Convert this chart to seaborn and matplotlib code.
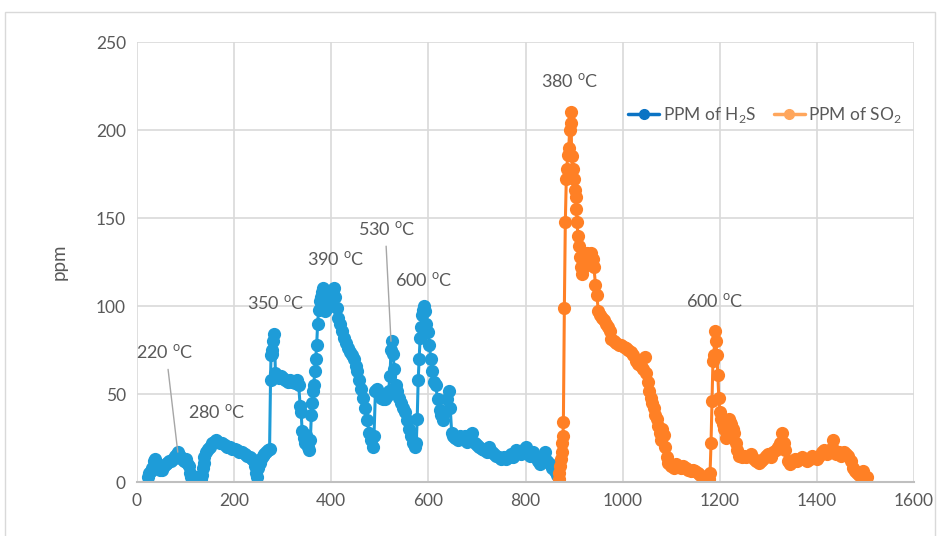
import pandas as pd
import matplotlib
matplotlib.use("Agg")
import matplotlib.pyplot as plt
import seaborn as sns
from matplotlib.lines import Line2D
from matplotlib.patches import Rectangle

# datos
h2s_x = [23, 25, 28, 31, 34, 37, 40, 43, 47, 51, 55, 59, 62, 66, 70, 74, 78, 82, 84, 88,
         92, 96, 100, 104, 107, 109, 112, 116, 119, 123, 127, 131, 133, 135, 137,
         139, 142, 146, 150, 154, 158, 162, 166, 170, 175, 181, 186, 191, 196, 201,
         206, 211, 216, 222, 227, 232, 236, 240, 243, 246, 248, 250, 253, 256, 259,
         262, 266, 270, 273,
         275, 276, 277, 279, 281, 283, 285, 288, 292, 296, 300, 305, 310, 315, 320,
         325, 330, 333, 336, 338, 340, 343, 345, 347, 350, 352, 355, 357, 359, 361,
         362, 364, 366, 368, 370, 372, 374, 376, 378, 380, 382, 385, 388, 392, 396,
         400, 404, 406, 408, 411, 414, 418, 422, 426, 430, 434, 438, 442, 446, 450,
         454, 458, 462, 466, 470, 474, 478, 482, 485, 488, 491, 494, 498, 502, 506,
         510, 514, 518, 521, 523, 525, 527, 530, 533, 536, 540, 544, 548, 552, 556,
         560, 564, 568, 572, 575, 577, 579, 581, 583, 585, 587, 589, 591, 593, 596,
         599, 602, 605, 608, 611, 615, 619, 623, 627, 631, 635, 639, 642, 645, 648,
         651, 655, 660, 665, 670, 675, 680, 685, 690, 695, 700, 705, 710, 715, 720,
         725, 730, 735, 740, 745, 750, 755, 760, 765, 770, 775, 780, 785, 790, 795,
         800, 805, 810, 815, 820, 825, 830, 835, 840, 845, 850, 855, 860, 865]
h2s_ppm = [3, 5, 6, 8, 12, 13, 10, 8, 7, 7, 9, 10, 11, 12, 12, 13, 15, 16, 17, 15,
           13, 12, 13, 11, 9, 5, 3, 2, 2, 3, 3, 2, 4, 8, 11,
           14, 17, 19, 20, 22, 23, 24, 23, 22, 22, 21, 20, 20, 19, 19,
           18, 17, 17, 16, 15, 14, 13, 12, 9, 5, 3, 8, 11, 13, 15,
           16, 17, 18, 19,
           58, 72, 75, 73, 80, 84, 62, 60, 59, 60, 59, 58, 57, 58, 57,
           56, 58, 55, 43, 40, 29, 25, 22, 27, 24, 20, 18, 24, 38, 45,
           52, 55, 63, 70, 78, 90, 98, 103, 105, 108, 110, 101, 97, 99, 104,
           106, 109, 110, 105, 99, 93, 90, 86, 82, 79, 76, 74, 72, 70, 66,
           63, 58, 53, 48, 42, 35, 28, 24, 20, 26, 52, 53, 50, 48, 47,
           47, 49, 52, 60, 75, 80, 73, 64, 55, 52, 48, 45, 42, 40, 35,
           30, 26, 22, 20, 22, 36, 58, 70, 82, 88, 95, 98, 100, 97, 90,
           85, 78, 70, 63, 57, 55, 47, 41, 38, 35, 40, 47, 52, 42, 28,
           26, 25, 24, 26, 25, 26, 23, 27, 28, 22, 21, 20, 19, 18, 17,
           20, 17, 16, 15, 14, 13, 14, 13, 14, 16, 14, 18, 17, 16, 18,
           20, 17, 15, 17, 14, 12, 10, 13, 17, 12, 10, 8, 6, 4]

so2_x = [868, 870, 872, 874, 875, 876, 877, 878, 880, 882, 884, 885, 887, 889, 891,
         893, 894, 895, 897, 899, 901, 903, 905, 906, 908, 910, 912, 914, 916, 918,
         920, 923, 926, 929, 932, 935, 938, 941, 944, 947, 950, 953, 957, 961, 965,
         969, 973, 977, 982, 987, 992, 997, 1002, 1007, 1012, 1017, 1022, 1027, 1032,
         1037, 1042, 1046, 1049, 1052, 1055, 1058, 1061, 1064, 1067, 1070, 1073,
         1076, 1079, 1082, 1085, 1088, 1091, 1094, 1097, 1100, 1105, 1110, 1115,
         1120, 1125, 1130, 1135, 1140, 1145, 1150, 1155, 1160, 1165, 1170, 1174,
         1177, 1180, 1182, 1184, 1186, 1188, 1190, 1192, 1194, 1196, 1198, 1200,
         1203, 1206, 1209, 1212, 1215, 1218, 1221, 1224, 1227, 1230, 1233, 1236,
         1240, 1245, 1250, 1255, 1260, 1265, 1270, 1275, 1280, 1285, 1290, 1295,
         1300, 1305, 1310, 1315, 1320, 1325, 1329, 1332, 1335, 1340, 1345, 1350,
         1355, 1360, 1365, 1370, 1375, 1380, 1385, 1390, 1395, 1400, 1405, 1410,
         1415, 1420, 1425, 1430, 1433, 1436, 1440, 1445, 1450, 1455, 1460, 1465,
         1470, 1474, 1478, 1482, 1486, 1490, 1494, 1497, 1500, 1503]
so2_ppm = [2, 5, 9, 13, 17, 22, 26, 34, 99, 148, 172, 178, 186, 190, 200,
           210, 204, 185, 178, 172, 166, 162, 155, 148, 140, 134, 128, 122, 118, 125,
           122, 128, 130, 126, 129, 130, 127, 122, 112, 106, 97, 95, 93, 92, 90,
           88, 86, 81, 80, 79, 78, 78, 77, 76, 75, 74, 72, 69, 67,
           66, 64, 71, 62, 57, 52, 48, 45, 42, 38, 36, 32,
           28, 24, 30, 27, 20, 14, 11, 10, 9, 8, 10, 9,
           8, 9, 8, 7, 6, 7, 6, 5, 4, 3, 2, 3,
           2, 5, 22, 46, 69, 72, 86, 80, 72, 61, 48, 40,
           36, 33, 30, 25, 35, 36, 34, 33, 30, 28, 22, 18,
           15, 14, 15, 14, 15, 16, 13, 12, 11, 12, 13, 15,
           16, 14, 17, 18, 20, 22, 28, 22, 18, 12, 10, 12,
           13, 12, 13, 14, 13, 12, 13, 15, 14, 13, 15, 17,
           18, 16, 17, 19, 24, 18, 16, 17, 15, 17, 16, 15,
           12, 8, 6, 5, 4, 5, 6, 4, 3, 3]

etiquetas = [(57, 74, "220"), (164, 40, "280"), (285, 102, "350"), (410, 127, "390"),
             (515, 144, "530"), (591, 115, "600"), (892, 228, "380"), (1190, 103, "600")]

sns.set_theme(style="white")
plt.rcParams['font.family'] = ['Lato', 'DejaVu Sans']
plt.rcParams['mathtext.fontset'] = 'custom'
plt.rcParams['mathtext.rm'] = 'Lato'
gris = '#595959'
azul = '#1E9CD8'
naranja = '#FF8025'

df_h2s = pd.DataFrame({'x': h2s_x, 'ppm': h2s_ppm})
df_so2 = pd.DataFrame({'x': so2_x, 'ppm': so2_ppm})

fig = plt.figure(figsize=(9.52, 5.36), dpi=100)
ax = fig.add_axes([0.1439, 0.1007, 0.8162, 0.8209])

sns.lineplot(data=df_h2s, x='x', y='ppm', ax=ax, color=azul, marker='o', markersize=9.5,
             markeredgewidth=0, linewidth=2.2, sort=False, estimator=None)
sns.lineplot(data=df_so2, x='x', y='ppm', ax=ax, color=naranja, marker='o', markersize=9.5,
             markeredgewidth=0, linewidth=2.2, sort=False, estimator=None)

ax.set_xlim(0, 1600)
ax.set_ylim(0, 250)
ax.set_xticks(range(0, 1601, 200))
ax.set_yticks(range(0, 251, 50))
ax.grid(True, color='#D9D9D9', linewidth=1.2)
ax.set_axisbelow(True)
for lado in ['top', 'right', 'left']:
    ax.spines[lado].set_visible(False)
ax.spines['bottom'].set_color('#BFBFBF')
ax.spines['bottom'].set_linewidth(1.5)
ax.tick_params(axis='both', length=0, labelsize=12.5, labelcolor=gris, pad=8)
ax.set_xlabel('')
ax.set_ylabel('ppm', fontsize=13.5, color=gris, labelpad=20)

for tx, ty, t in etiquetas:
    ax.text(tx, ty, t + r' $^\mathregular{o}$C', ha='center', va='center', fontsize=13, color=gris)

# lineas guia de las etiquetas
ax.plot([64, 84], [64, 17], color='#A6A6A6', linewidth=1)
ax.plot([513, 523], [134, 80], color='#A6A6A6', linewidth=1)

manijas = [Line2D([0], [0], color='#0B73C4', marker='o', markersize=7, linewidth=2.5),
           Line2D([0], [0], color='#FFA65C', marker='o', markersize=7, linewidth=2.5)]
ax.legend(manijas, [r'PPM of H$_\mathregular{2}$S', r'PPM of SO$_\mathregular{2}$'],
          loc='center left', bbox_to_anchor=(0.612, 0.834), ncol=2, frameon=False,
          fontsize=12.5, labelcolor=gris, handlelength=1.8, handletextpad=0.2,
          columnspacing=1.0)

fig.patches.append(Rectangle((5 / 952, -0.01), 930 / 952, (536 - 12) / 536 + 0.01,
                             transform=fig.transFigure, fill=False,
                             edgecolor='#D9D9D9', linewidth=1))

plt.savefig('out.png', dpi=100)
